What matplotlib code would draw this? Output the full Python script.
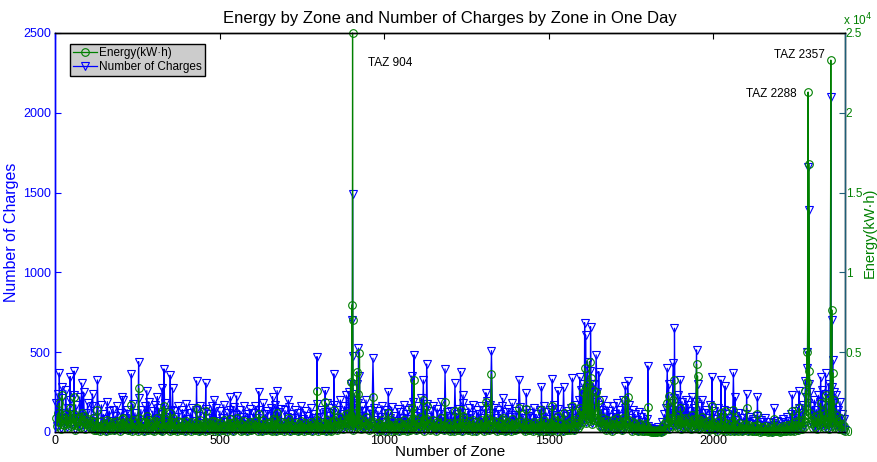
import numpy as np
import matplotlib
matplotlib.use("Agg")
import matplotlib.pyplot as plt
from matplotlib.ticker import FuncFormatter

plt.rcParams["font.family"] = ["Liberation Sans", "DejaVu Sans"]

BLUE = "#0000ff"
GREEN = "#008000"
TEAL = "#1e5f78"

# band samples: "high" zones 3, 9, 15, ... and "low" zones 6, 12, 18, ...
high_zone = np.arange(3, 2400, 6)
low_zone = np.arange(6, 2401, 6)

high_charges = [
    180, 240, 120, 210, 90, 260, 150, 200, 110, 230, 170, 95, 220, 140, 250, 120, 180, 70, 160, 130,
    90, 150, 60, 170, 110, 80, 190, 130, 70, 140, 100, 160, 55, 120, 200, 85, 140, 110, 60, 175,
    120, 80, 210, 140, 60, 160, 100, 190, 75, 130, 170, 90, 150, 110, 65, 180, 125, 95, 140, 70,
    130, 95, 160, 60, 140, 110, 175, 80, 120, 150, 70, 135, 100, 165, 55, 125, 145, 85, 110, 160,
    100, 150, 70, 130, 90, 170, 60, 120, 140, 80, 155, 105, 65, 135, 95, 160, 75, 115, 145, 85,
    120, 160, 90, 140, 70, 180, 110, 130, 60, 150, 100, 170, 80, 125, 145, 65, 135, 95, 155, 110,
    90, 140, 60, 120, 160, 80, 130, 100, 70, 150, 115, 85, 175, 95, 140, 60, 125, 180, 100, 150,
    120, 170, 90, 140, 200, 110, 160, 230, 130, 190, 150, 240, 120, 180, 100, 160, 130, 200, 90, 140,
    110, 150, 75, 130, 95, 165, 60, 140, 120, 85, 155, 100, 70, 145, 125, 90, 170, 110, 135, 80,
    150, 190, 100, 160, 120, 210, 80, 140, 175, 95, 130, 160, 70, 145, 115, 185, 90, 155, 125, 100,
    130, 95, 165, 110, 145, 75, 180, 120, 90, 150, 105, 170, 65, 135, 115, 160, 85, 140, 195, 100,
    170, 120, 150, 90, 135, 110, 160, 75, 125, 145, 95, 180, 105, 130, 65, 155, 115, 90, 140, 100,
    120, 85, 150, 110, 70, 140, 95, 160, 125, 80, 135, 105, 170, 90, 145, 115, 75, 155, 100, 130,
    110, 150, 90, 170, 130, 200, 260, 310, 240, 350, 280, 220, 300, 190, 250, 170, 140, 200, 120, 160,
    130, 95, 160, 115, 180, 140, 100, 200, 150, 120, 170, 90, 140, 110, 75, 125, 95, 60, 110, 80,
    40, 25, 15, 20, 10, 30, 20, 60, 110, 150, 120, 180, 140, 210, 160, 230, 130, 190, 150, 200,
    170, 130, 220, 150, 190, 110, 160, 200, 120, 140, 90, 170, 105, 130, 80, 150, 115, 95, 140, 70,
    110, 85, 130, 60, 100, 75, 120, 55, 90, 110, 65, 95, 50, 80, 70, 100, 45, 75, 60, 85,
    40, 65, 30, 55, 45, 70, 35, 60, 80, 50, 95, 70, 110, 85, 130, 100, 150, 120, 170, 140,
    220, 180, 250, 160, 200, 140, 230, 190, 260, 170, 240, 150, 210, 280, 180, 230, 140, 190, 110, 80,
]
high_energy = [
    900, 1200, 600, 1000, 450, 1150, 700, 950, 500, 1100, 850, 400, 950, 650, 1000, 550, 800, 300, 700, 600,
    400, 650, 250, 700, 500, 350, 750, 600, 300, 650, 450, 700, 220, 500, 850, 400, 600, 480, 250, 750,
    550, 350, 850, 600, 250, 650, 450, 780, 320, 600, 700, 400, 650, 480, 300, 750, 550, 420, 600, 320,
    600, 420, 680, 250, 620, 480, 700, 350, 520, 650, 300, 580, 450, 720, 230, 550, 620, 350, 480, 680,
    450, 620, 300, 550, 400, 720, 250, 520, 580, 320, 650, 450, 260, 580, 420, 680, 320, 480, 620, 350,
    520, 680, 400, 580, 300, 750, 450, 550, 260, 650, 420, 720, 320, 520, 620, 260, 580, 400, 650, 450,
    400, 580, 260, 520, 680, 320, 550, 420, 300, 650, 480, 350, 750, 400, 580, 260, 550, 780, 420, 650,
    550, 780, 420, 650, 950, 520, 780, 1150, 650, 950, 700, 1200, 580, 850, 450, 780, 620, 950, 420, 650,
    480, 650, 320, 580, 420, 720, 260, 620, 520, 350, 680, 450, 300, 650, 550, 400, 750, 480, 580, 350,
    680, 900, 450, 720, 550, 950, 350, 650, 800, 420, 580, 750, 300, 650, 520, 850, 400, 720, 550, 450,
    580, 420, 750, 480, 650, 320, 800, 550, 400, 680, 450, 780, 300, 620, 520, 720, 350, 650, 900, 450,
    780, 550, 680, 400, 620, 480, 720, 320, 550, 650, 420, 800, 450, 580, 300, 680, 520, 400, 620, 450,
    520, 350, 650, 480, 300, 620, 420, 720, 550, 320, 580, 450, 750, 400, 650, 520, 320, 680, 420, 580,
    480, 680, 400, 780, 580, 950, 1300, 1550, 1150, 1750, 1350, 1050, 1500, 900, 1250, 780, 650, 900, 520, 720,
    580, 420, 720, 520, 850, 650, 450, 900, 680, 550, 780, 400, 620, 480, 320, 550, 420, 260, 480, 350,
    200, 120, 60, 100, 50, 130, 100, 300, 520, 680, 550, 850, 650, 950, 750, 1050, 620, 880, 680, 900,
    780, 620, 1050, 720, 900, 520, 750, 950, 550, 650, 420, 780, 480, 580, 350, 680, 520, 420, 650, 320,
    480, 400, 580, 260, 450, 320, 550, 230, 420, 480, 300, 420, 230, 350, 320, 450, 200, 320, 260, 400,
    180, 300, 130, 260, 200, 320, 160, 280, 350, 230, 420, 320, 520, 400, 620, 450, 720, 550, 780, 650,
    1050, 850, 1200, 750, 950, 650, 1050, 880, 1250, 780, 1150, 700, 980, 1300, 850, 1050, 650, 880, 520, 400,
]
low_charges = [
    40, 70, 25, 55, 80, 30, 60, 45, 90, 20, 65, 50, 35, 75, 25, 55, 40, 30, 60, 20,
    15, 35, 10, 25, 40, 5, 30, 20, 45, 15, 25, 35, 10, 30, 20, 40, 15, 25, 10, 30,
    20, 10, 35, 25, 5, 30, 15, 40, 20, 10, 25, 35, 15, 5, 30, 20, 40, 10, 25, 15,
    25, 10, 30, 15, 40, 5, 20, 35, 10, 25, 15, 30, 5, 20, 40, 10, 25, 15, 35, 20,
    10, 25, 5, 30, 15, 35, 10, 20, 40, 5, 25, 15, 30, 10, 20, 35, 5, 25, 15, 30,
    20, 35, 10, 25, 5, 30, 15, 40, 20, 10, 25, 5, 35, 15, 30, 10, 20, 40, 5, 25,
    15, 30, 5, 20, 35, 10, 25, 15, 40, 5, 30, 20, 10, 35, 15, 25, 5, 30, 20, 10,
    30, 45, 20, 35, 55, 25, 40, 60, 30, 50, 20, 45, 35, 55, 25, 40, 30, 50, 20, 35,
    20, 35, 10, 25, 15, 40, 5, 30, 20, 10, 35, 15, 25, 5, 30, 20, 40, 10, 25, 15,
    30, 45, 15, 35, 25, 50, 10, 30, 40, 20, 25, 35, 10, 30, 20, 45, 15, 35, 25, 10,
    25, 10, 35, 20, 30, 5, 40, 25, 15, 30, 10, 35, 5, 25, 20, 30, 10, 25, 40, 15,
    35, 20, 30, 10, 25, 15, 35, 5, 20, 30, 10, 40, 15, 25, 5, 30, 20, 10, 25, 15,
    20, 10, 30, 15, 5, 25, 10, 35, 20, 5, 25, 15, 35, 10, 30, 20, 5, 30, 15, 25,
    20, 35, 15, 40, 30, 50, 70, 90, 60, 100, 80, 55, 85, 45, 65, 40, 30, 45, 20, 35,
    25, 10, 35, 20, 40, 30, 15, 45, 30, 20, 35, 10, 25, 15, 5, 20, 10, 5, 15, 10,
    5, 3, 0, 2, 0, 4, 2, 8, 20, 35, 25, 40, 30, 50, 35, 55, 25, 45, 30, 40,
    35, 25, 50, 30, 45, 20, 35, 45, 25, 30, 15, 35, 20, 25, 10, 30, 20, 15, 25, 10,
    20, 10, 25, 5, 15, 10, 20, 5, 15, 20, 5, 15, 5, 10, 8, 15, 3, 10, 5, 12,
    3, 8, 2, 6, 4, 10, 3, 8, 12, 5, 15, 10, 20, 12, 25, 15, 30, 20, 35, 25,
    50, 35, 60, 30, 45, 25, 55, 40, 65, 30, 55, 25, 45, 70, 35, 50, 25, 40, 20, 10,
]
low_energy = [
    350, 650, 200, 500, 800, 250, 550, 400, 900, 150, 600, 450, 300, 700, 200, 500, 350, 250, 550, 150,
    120, 300, 80, 200, 350, 40, 250, 150, 400, 100, 200, 300, 70, 250, 160, 350, 110, 200, 80, 260,
    160, 70, 300, 200, 30, 250, 110, 350, 150, 80, 200, 300, 120, 40, 250, 160, 350, 70, 200, 120,
    200, 80, 250, 120, 350, 30, 160, 300, 70, 200, 110, 250, 40, 150, 350, 80, 200, 120, 300, 160,
    80, 200, 30, 250, 120, 300, 70, 160, 350, 40, 200, 110, 250, 80, 150, 300, 30, 200, 120, 250,
    160, 300, 70, 200, 40, 250, 120, 350, 150, 80, 200, 30, 300, 110, 250, 70, 160, 350, 40, 200,
    110, 250, 40, 150, 300, 80, 200, 120, 350, 30, 250, 160, 70, 300, 110, 200, 40, 250, 150, 80,
    250, 400, 150, 300, 500, 200, 350, 550, 250, 450, 150, 400, 300, 500, 200, 350, 250, 450, 150, 300,
    150, 300, 70, 200, 110, 350, 30, 250, 160, 80, 300, 120, 200, 40, 250, 150, 350, 70, 200, 110,
    250, 400, 110, 300, 200, 450, 70, 250, 350, 150, 200, 300, 80, 250, 160, 400, 110, 300, 200, 70,
    200, 80, 300, 150, 250, 40, 350, 200, 110, 250, 70, 300, 30, 200, 160, 250, 80, 200, 350, 110,
    300, 160, 250, 70, 200, 120, 300, 40, 150, 250, 80, 350, 110, 200, 30, 250, 160, 80, 200, 120,
    160, 70, 250, 110, 40, 200, 80, 300, 150, 30, 200, 120, 300, 70, 250, 160, 40, 250, 110, 200,
    150, 300, 110, 350, 250, 450, 650, 800, 550, 900, 700, 500, 750, 400, 600, 350, 250, 400, 150, 300,
    200, 80, 300, 160, 350, 250, 110, 400, 250, 150, 300, 70, 200, 120, 40, 160, 80, 30, 120, 70,
    40, 20, 0, 10, 0, 30, 15, 60, 160, 300, 200, 350, 250, 450, 300, 500, 200, 400, 250, 350,
    300, 200, 450, 250, 400, 160, 300, 400, 200, 250, 110, 300, 160, 200, 70, 250, 160, 110, 200, 70,
    160, 70, 200, 40, 110, 70, 160, 30, 110, 160, 40, 110, 30, 70, 50, 110, 20, 70, 40, 90,
    20, 60, 10, 40, 30, 70, 20, 60, 90, 40, 110, 70, 150, 90, 200, 110, 250, 160, 300, 200,
    450, 300, 550, 250, 400, 200, 500, 350, 600, 250, 500, 200, 400, 650, 300, 450, 200, 350, 150, 70,
]

# zones that stick out of the band
peak_zone = [13, 22, 46, 58, 81, 114, 129, 205, 232, 254, 279, 311, 326, 331, 350, 357, 430, 458,
             483, 533, 552, 619, 661, 675, 709, 796, 821, 847, 892, 898, 902, 904, 905, 917, 922, 925,
             966, 1013, 1084, 1091, 1119, 1129, 1185, 1215, 1232, 1240, 1309, 1326, 1360, 1410, 1432,
             1478, 1511, 1528, 1545, 1572, 1594, 1605, 1609, 1612, 1618, 1624, 1627, 1633, 1644, 1652,
             1733, 1740, 1801, 1860, 1864, 1878, 1882, 1900, 1949, 1952, 1996, 2023, 2036, 2061, 2066,
             2101, 2134, 2185, 2240, 2261, 2280, 2284, 2286, 2288, 2290, 2292, 2326, 2341, 2350, 2357,
             2360, 2363, 2366]
peak_charges = [370, 280, 347, 382, 307, 238, 326, 221, 364, 441, 259, 221, 276, 395, 357, 276, 320, 307,
                200, 221, 226, 253, 221, 259, 200, 472, 259, 364, 253, 300, 702, 1490, 476, 300, 525, 350,
                462, 253, 351, 483, 326, 426, 395, 305, 378, 232, 246, 510, 211, 326, 243,
                284, 330, 259, 280, 337, 343, 300, 685, 608, 441, 380, 660, 300, 483, 378,
                288, 320, 414, 399, 300, 431, 650, 326, 514, 300, 343, 326, 288, 372, 217,
                236, 221, 149, 232, 257, 320, 503, 400, 1660, 1390, 300, 343, 368, 300, 2100,
                702, 451, 250]
peak_energy = [1800, 2300, 1500, 2200, 1200, 900, 1400, 800, 1700, 2740, 1000, 900, 1300, 1630, 1200, 900, 1500, 1300,
               700, 800, 900, 1100, 800, 1200, 900, 2590, 1900, 1400, 1200, 3150, 7960, 25000, 7020, 3780, 2400, 4970,
               2180, 1200, 1500, 3260, 2000, 1600, 1900, 1300, 1400, 1000, 1900, 3640, 900, 1500, 1420,
               1400, 1600, 1000, 1200, 1630, 1500, 2500, 3990, 2800, 3000, 4410, 3400, 2600, 2500, 2000,
               2000, 2200, 1590, 1800, 2260, 2000, 3260, 1500, 4260, 3510, 1630, 1200, 1300, 1400, 900,
               1500, 1100, 800, 1300, 1500, 2590, 5030, 3150, 21300, 16800, 3840, 1800, 2300, 2100, 23300,
               7650, 3720, 2000]

labels = [("TAZ 904", 951, 23100, "left"),
          ("TAZ 2288", 2252, 21200, "right"),
          ("TAZ 2357", 2339, 23600, "right")]

# merge band samples and peaks into one series per zone
band_zone = np.concatenate([high_zone, low_zone])
band_charges = np.concatenate([high_charges, low_charges])
band_energy = np.concatenate([high_energy, low_energy])
keep = ~np.isin(band_zone, peak_zone)
zone = np.concatenate([band_zone[keep], peak_zone])
charges = np.concatenate([band_charges[keep], peak_charges])
energy = np.concatenate([band_energy[keep], peak_energy])
order = np.argsort(zone)
zone, charges, energy = zone[order], charges[order], energy[order]

fig = plt.figure(figsize=(8.77, 4.62), dpi=100)
ax = fig.add_axes([0.0627, 0.065, 0.9008, 0.8636])
ax2 = ax.twinx()

l1, = ax.plot(zone, charges, color=BLUE, lw=0.9, marker="v", ms=5.5,
              mfc="none", mec=BLUE, mew=0.8, clip_on=False, zorder=2)
l2, = ax2.plot(zone, energy, color=GREEN, lw=0.9, marker="o", ms=5.5,
               mfc="none", mec=GREEN, mew=0.8, clip_on=False, zorder=2)

ax.set_xlim(0, 2400)
ax.set_ylim(0, 2500)
ax2.set_ylim(0, 25000)
ax.set_xticks([0, 500, 1000, 1500, 2000])
ax.set_yticks([0, 500, 1000, 1500, 2000, 2500])
ax2.set_yticks([0, 5000, 10000, 15000, 20000, 25000])
ax2.yaxis.set_major_formatter(FuncFormatter(lambda v, p: f"{v / 1e4:g}"))

ax.tick_params(axis="x", direction="in", top=True, length=4, labelsize=9, pad=2)
ax.tick_params(axis="y", direction="in", colors=BLUE, length=4, labelsize=9, pad=3)
ax2.tick_params(axis="y", direction="in", colors=GREEN, length=4, labelsize=8.5, pad=0.5)
ax2.tick_params(axis="y", which="both", color=TEAL)

ax.spines["left"].set_color(BLUE)
ax2.spines["left"].set_color(BLUE)
ax2.spines["right"].set_color(TEAL)
for s in list(ax.spines.values()) + list(ax2.spines.values()):
    s.set_linewidth(1.0)

ax.set_title("Energy by Zone and Number of Charges by Zone in One Day", fontsize=12, pad=7)
ax.set_xlabel("Number of Zone", fontsize=11, labelpad=-1)
ax.set_ylabel("Number of Charges", fontsize=11.5, color=BLUE, labelpad=3)
fig.text(0.9915, 0.497, "Energy(kW\u00b7h)", rotation=90, ha="center", va="center",
         fontsize=10.5, color=GREEN)
ax2.text(0.997, 1.012, r"x 10$^4$", transform=ax2.transAxes, ha="left", va="bottom",
         color=GREEN, fontsize=8.5)

for txt, zx, ey, ha in labels:
    ax2.text(zx, ey, txt, ha=ha, va="center", fontsize=8.5, color="black")

leg = ax2.legend([l2, l1], ["Energy(kW\u00b7h)", "Number of Charges"], loc="upper left",
                 bbox_to_anchor=(0.019, 0.972), borderaxespad=0, fontsize=8.5,
                 fancybox=False, framealpha=1, facecolor="#cccccc", edgecolor="black",
                 handlelength=2.0, handletextpad=0.2, borderpad=0.25, labelspacing=0.15)
leg.get_frame().set_linewidth(1.0)
leg.set_zorder(10)

fig.savefig("out.png", dpi=100)
